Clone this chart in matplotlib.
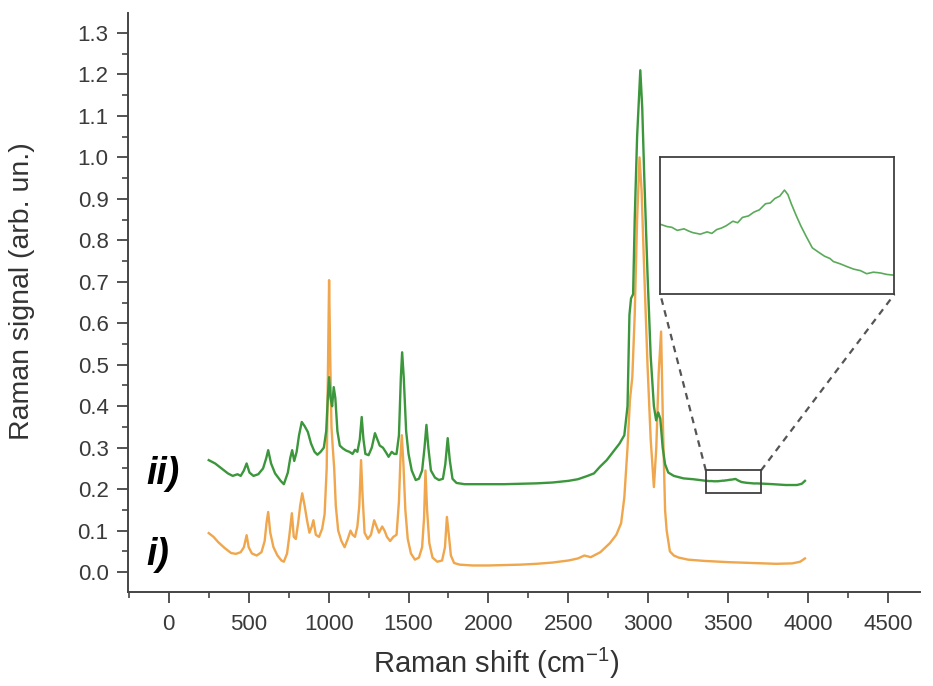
import numpy as np
import matplotlib
matplotlib.use("Agg")
import matplotlib.pyplot as plt
from matplotlib.patches import Rectangle

plt.rcParams['font.family'] = ['Liberation Sans', 'DejaVu Sans']

# spectrum i) (orange)
x_i = [250, 280, 310, 350, 390, 420, 450, 470, 487, 500, 520, 550, 580, 600, 612, 622, 635, 655,
       680, 705, 720, 740, 755, 770, 782, 795, 810, 822, 835, 850, 865, 880, 895, 905, 920, 940,
       960, 975, 988, 996, 1003, 1010, 1018, 1026, 1035, 1045, 1060, 1080, 1100, 1120, 1137, 1150,
       1165, 1180, 1192, 1203, 1213, 1225, 1245, 1265, 1285, 1300, 1315, 1335, 1350, 1365, 1385,
       1405, 1425, 1440, 1450, 1458, 1468, 1480, 1495, 1515, 1540, 1565, 1585, 1597, 1606, 1616,
       1630, 1650, 1680, 1710, 1728, 1740, 1752, 1765, 1785, 1820, 1900, 2000, 2100, 2200, 2300,
       2400, 2500, 2560, 2600, 2640, 2700, 2760, 2800, 2830, 2850, 2870, 2885, 2900, 2915, 2930,
       2945, 2958, 2975, 2995, 3015, 3035, 3050, 3065, 3080, 3092, 3105, 3115, 3135, 3160, 3190,
       3250, 3350, 3500, 3650, 3800, 3900, 3950, 3980]
y_i = [0.094, 0.085, 0.072, 0.058, 0.046, 0.044, 0.048, 0.060, 0.089, 0.060, 0.045, 0.040, 0.048,
       0.075, 0.120, 0.145, 0.095, 0.060, 0.040, 0.028, 0.025, 0.045, 0.090, 0.142, 0.085, 0.080,
       0.120, 0.160, 0.190, 0.160, 0.125, 0.095, 0.110, 0.125, 0.090, 0.085, 0.105, 0.140, 0.250,
       0.500, 0.704, 0.520, 0.350, 0.300, 0.250, 0.160, 0.100, 0.075, 0.060, 0.080, 0.100, 0.090,
       0.085, 0.110, 0.160, 0.270, 0.180, 0.095, 0.080, 0.090, 0.125, 0.110, 0.095, 0.110, 0.100,
       0.085, 0.075, 0.085, 0.090, 0.170, 0.280, 0.330, 0.260, 0.150, 0.080, 0.045, 0.030, 0.035,
       0.060, 0.130, 0.245, 0.150, 0.070, 0.035, 0.025, 0.028, 0.060, 0.133, 0.090, 0.040, 0.022,
       0.018, 0.016, 0.016, 0.017, 0.018, 0.020, 0.023, 0.028, 0.033, 0.040, 0.036, 0.048, 0.070,
       0.090, 0.118, 0.180, 0.300, 0.415, 0.470, 0.620, 0.850, 1.000, 0.920, 0.720, 0.500, 0.320,
       0.205, 0.300, 0.480, 0.580, 0.350, 0.150, 0.100, 0.050, 0.040, 0.035, 0.030, 0.027, 0.024,
       0.022, 0.020, 0.021, 0.025, 0.033]

# spectrum ii) (green), dense part 3360-3705 is the zoomed region
x_ii = [250, 290, 330, 370, 400, 430, 450, 470, 487, 505, 530, 560, 590, 610, 622, 640, 665, 700,
        720, 745, 760, 772, 785, 800, 815, 832, 850, 870, 890, 912, 930, 950, 970, 985, 995, 1003,
        1012, 1022, 1032, 1042, 1055, 1070, 1090, 1110, 1130, 1150, 1165, 1180, 1195, 1207, 1218,
        1230, 1250, 1270, 1290, 1305, 1320, 1340, 1360, 1375, 1395, 1410, 1425, 1440, 1452, 1460,
        1470, 1485, 1500, 1520, 1545, 1565, 1585, 1600, 1612, 1624, 1640, 1665, 1690, 1715, 1730,
        1745, 1758, 1775, 1800, 1850, 1900, 2000, 2100, 2200, 2300, 2400, 2500, 2560, 2620, 2660,
        2700, 2740, 2780, 2820, 2850, 2870, 2882, 2892, 2905, 2915, 2930, 2950, 2962, 2975, 2995,
        3015, 3035, 3049, 3062, 3075, 3090, 3105, 3125, 3160, 3220, 3280, 3320,
        3360, 3370, 3377, 3385, 3395, 3402, 3408, 3419, 3429, 3436, 3443, 3450, 3457, 3467, 3474,
        3481, 3490, 3498, 3506, 3515, 3522, 3529, 3536, 3543, 3548, 3553, 3560, 3567, 3575, 3584,
        3592, 3602, 3610, 3615, 3625, 3636, 3645, 3655, 3664, 3674, 3684, 3694, 3705,
        3780, 3860, 3930, 3960, 3980]
y_ii = [0.270, 0.262, 0.250, 0.238, 0.232, 0.236, 0.232, 0.245, 0.262, 0.240, 0.232, 0.236, 0.250,
        0.275, 0.294, 0.262, 0.238, 0.220, 0.212, 0.240, 0.275, 0.294, 0.268, 0.290, 0.330, 0.362,
        0.352, 0.338, 0.310, 0.290, 0.283, 0.290, 0.300, 0.340, 0.420, 0.470, 0.420, 0.400, 0.446,
        0.420, 0.340, 0.305, 0.298, 0.293, 0.290, 0.285, 0.295, 0.290, 0.320, 0.374, 0.320, 0.285,
        0.282, 0.300, 0.335, 0.320, 0.305, 0.300, 0.288, 0.278, 0.290, 0.285, 0.285, 0.330, 0.470,
        0.530, 0.470, 0.340, 0.285, 0.245, 0.222, 0.225, 0.245, 0.300, 0.355, 0.300, 0.245, 0.228,
        0.222, 0.225, 0.260, 0.323, 0.270, 0.225, 0.215, 0.212, 0.212, 0.212, 0.212, 0.213, 0.214,
        0.216, 0.220, 0.224, 0.232, 0.238, 0.255, 0.270, 0.290, 0.310, 0.330, 0.400, 0.620, 0.660,
        0.670, 0.850, 1.050, 1.210, 1.120, 0.950, 0.720, 0.520, 0.400, 0.366, 0.385, 0.370, 0.300,
        0.260, 0.240, 0.232, 0.226, 0.224, 0.222,
        0.2202, 0.2199, 0.2198, 0.2194, 0.2196, 0.2193, 0.2191, 0.2189, 0.2192, 0.2190, 0.2195,
        0.2197, 0.2200, 0.2206, 0.2204, 0.2211, 0.2213, 0.2218, 0.2221, 0.2229, 0.2230, 0.2236,
        0.2239, 0.2247, 0.2241, 0.2229, 0.2214, 0.2200, 0.2186, 0.2171, 0.2166, 0.2160, 0.2157,
        0.2153, 0.2150, 0.2146, 0.2143, 0.2141, 0.2137, 0.2139, 0.2138, 0.2136, 0.2135,
        0.212, 0.210, 0.210, 0.213, 0.220]

zoom_x = (3360, 3705)
zoom_y = (0.19, 0.245)

fig = plt.figure(figsize=(9.33, 6.86), dpi=100)
ax = fig.add_axes([0.1372, 0.137, 0.8489, 0.844])

ax.plot(x_i, y_i, color='#efa64c', lw=1.7)
ax.plot(x_ii, y_ii, color='#3c963c', lw=1.7)

ax.set_xlim(-255, 4700)
ax.set_ylim(-0.048, 1.348)
ax.set_xticks(np.arange(0, 4501, 500))
ax.set_xticks(np.arange(-250, 4701, 500), minor=True)
ax.set_yticks(np.arange(0, 1.31, 0.1))
ax.set_yticks(np.arange(0.05, 1.31, 0.1), minor=True)
ax.yaxis.set_major_formatter(matplotlib.ticker.FormatStrFormatter('%.1f'))
for s in ['top', 'right']:
    ax.spines[s].set_visible(False)
for s in ['left', 'bottom']:
    ax.spines[s].set_linewidth(1.4)
    ax.spines[s].set_color('#454545')
ax.tick_params(which='major', direction='out', length=8, width=1.3, color='#454545',
               labelsize=16, labelcolor='#3a3a3a')
ax.tick_params(axis='y', which='major', pad=6)
ax.tick_params(axis='x', which='major', pad=8)
ax.tick_params(which='minor', direction='out', length=4, width=1.2, color='#454545')

ax.set_xlabel('Raman shift (cm$^{\\mathregular{-1}}$)', fontsize=21, color='#333333')
ax.set_ylabel('Raman signal (arb. un.)', fontsize=20.5, color='#333333')
ax.xaxis.set_label_coords(0.465, -0.093)
ax.yaxis.set_label_coords(-0.118, 0.52)

ax.text(-140, 0.236, 'ii)', fontsize=27, fontweight='bold', fontstyle='italic',
        ha='left', va='center', color='black')
ax.text(-140, 0.041, 'i)', fontsize=27, fontweight='bold', fontstyle='italic',
        ha='left', va='center', color='black')

# small box around zoomed region
ax.add_patch(Rectangle((zoom_x[0], zoom_y[0]), zoom_x[1] - zoom_x[0], zoom_y[1] - zoom_y[0],
                       fill=False, ec='#404040', lw=1.3, zorder=5))

# inset
ins_x = (3075, 4540)
ins_y = (0.67, 1.0)
axins = ax.inset_axes([ins_x[0], ins_y[0], ins_x[1] - ins_x[0], ins_y[1] - ins_y[0]],
                      transform=ax.transData)
axins.plot(x_ii, y_ii, color='#5aaa5a', lw=1.2)
axins.set_xlim(zoom_x)
axins.set_ylim(0.211, 0.229)
axins.set_xticks([])
axins.set_yticks([])
for s in axins.spines.values():
    s.set_linewidth(1.3)
    s.set_color('#404040')

ax.plot([zoom_x[0], ins_x[0]], [zoom_y[1], ins_y[0]], ls=(0, (3, 2.5)), color='#555555', lw=1.6)
ax.plot([zoom_x[1], ins_x[1]], [zoom_y[1], ins_y[0]], ls=(0, (3, 2.5)), color='#555555', lw=1.6)

fig.savefig('out.png', dpi=100)
